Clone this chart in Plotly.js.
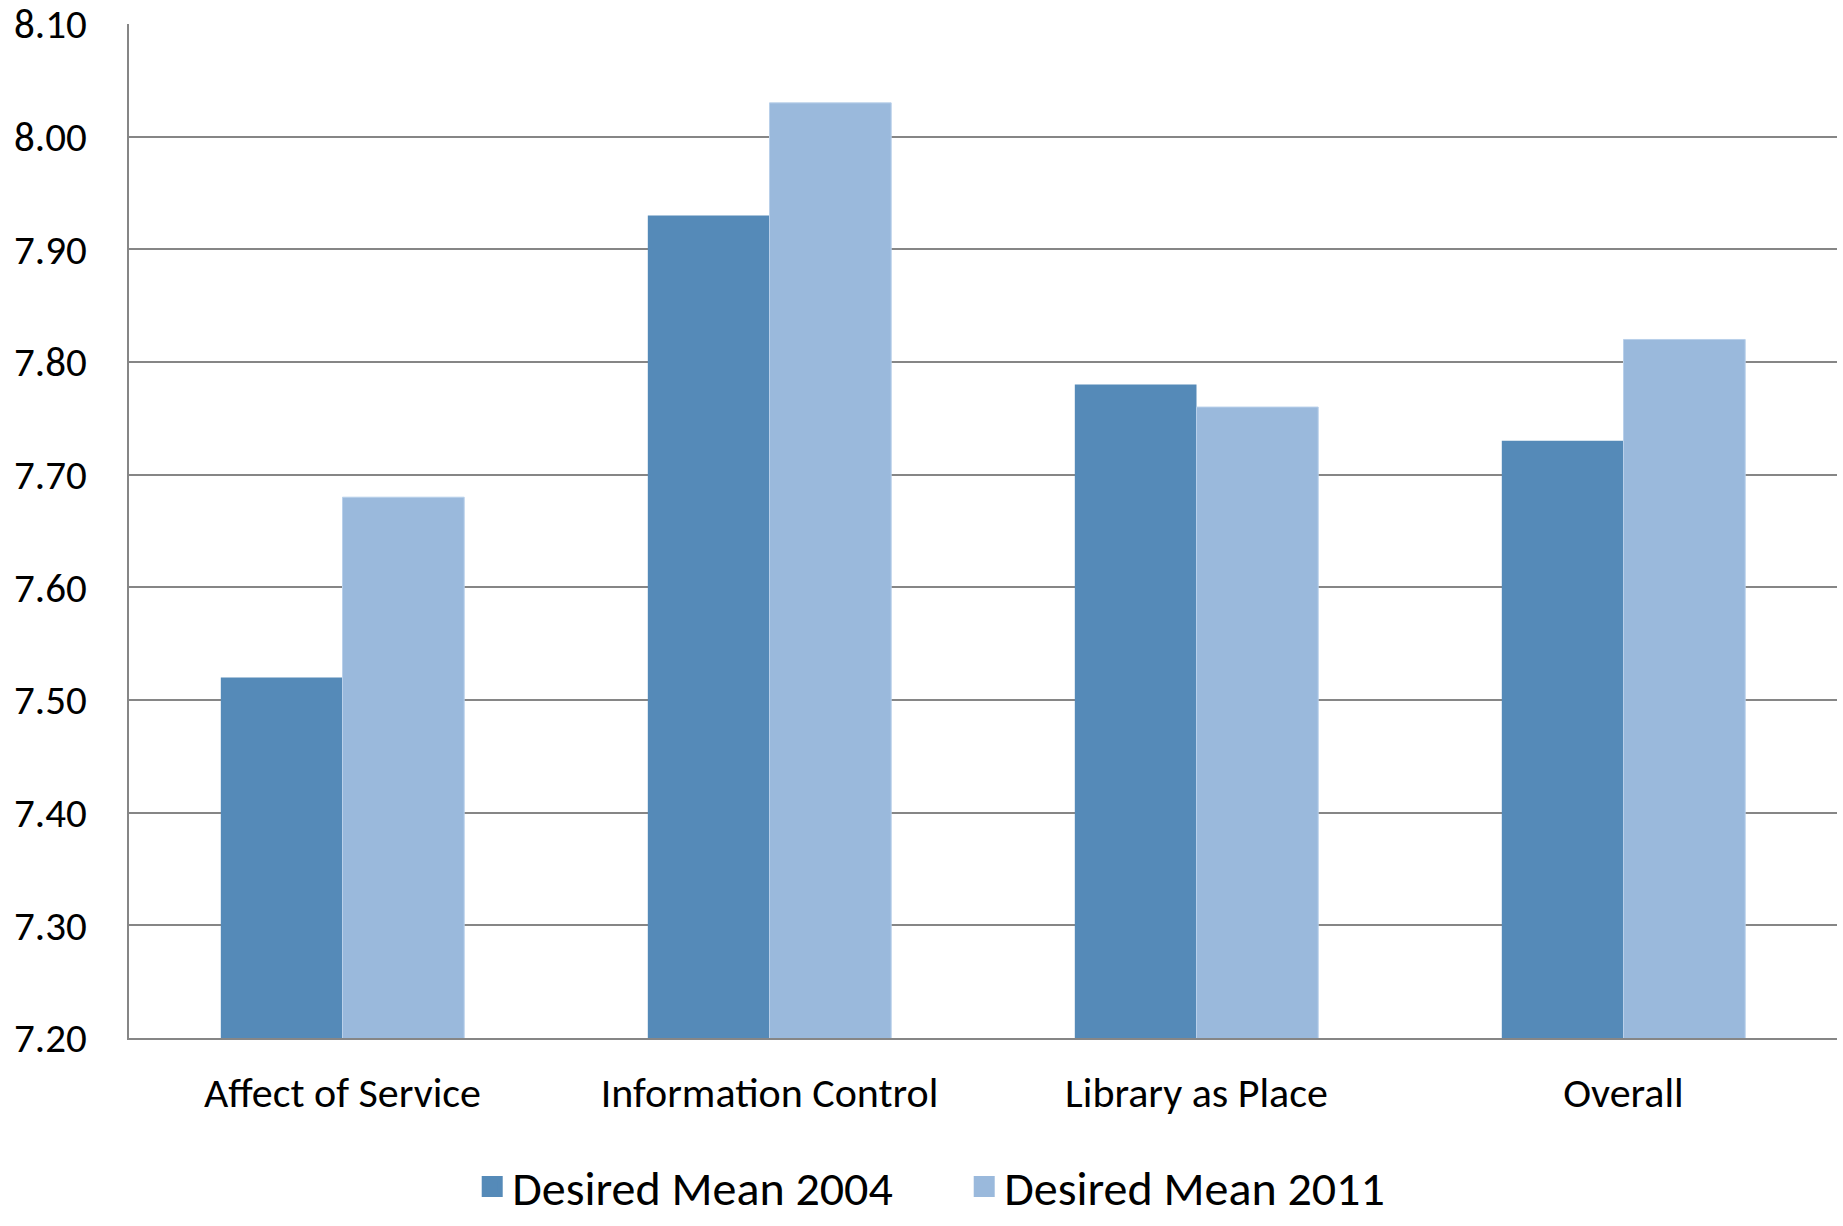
<!DOCTYPE html>
<html>
<head>
<meta charset="utf-8">
<script src="https://cdn.plot.ly/plotly-3.0.1.min.js"></script>
<style>
  html, body { margin: 0; padding: 0; background: #ffffff; }
  #chart { width: 1843px; height: 1226px; }
</style>
</head>
<body>
<div id="chart"></div>
<script>
// Desired mean scores by LibQUAL+ dimension
const categories = ["Affect of Service", "Information Control", "Library as Place", "Overall"];
const desired2004 = [7.52, 7.93, 7.78, 7.73];
const desired2011 = [7.68, 8.03, 7.76, 7.82];
const seriesNames = ["Desired Mean 2004", "Desired Mean 2011"];
const seriesColors = ["#558AB8", "#9AB9DC"];
const yTicks = [7.20, 7.30, 7.40, 7.50, 7.60, 7.70, 7.80, 7.90, 8.00, 8.10];

const FONT = "Carlito, Calibri, Lato, 'Open Sans', sans-serif";
const GRID = "#868686";

const bars = [desired2004, desired2011].map((vals, i) => ({
  type: "bar",
  name: seriesNames[i],
  x: categories,
  y: vals,
  marker: {
    color: seriesColors[i],
    line: i === 1 ? { width: 1, color: "#B9D0EA" } : { width: 0 }
  },
  showlegend: false,
  hovertemplate: "%{x}<br>%{y:.2f}<extra></extra>"
}));

// Legend keys: square markers, larger than the default bar swatch
const keys = seriesNames.map((name, i) => ({
  type: "scatter",
  mode: "markers",
  name: name,
  x: [null],
  y: [null],
  marker: { symbol: "square", size: 16, color: seriesColors[i], line: { width: 5, color: seriesColors[i] } },
  hoverinfo: "skip"
}));

const layout = {
  width: 1843,
  height: 1226,
  paper_bgcolor: "#ffffff",
  plot_bgcolor: "#ffffff",
  margin: { l: 129, r: 6, t: 24, b: 188 },
  barmode: "group",
  bargap: 0.43,
  bargroupgap: 0,
  font: { family: FONT, color: "#000000", size: 36 },
  xaxis: {
    type: "category",
    categoryarray: categories,
    showline: true,
    linecolor: GRID,
    linewidth: 2,
    showgrid: false,
    ticks: "",
    ticklabelstandoff: 17,
    automargin: false,
    tickfont: { family: FONT, size: 42, color: "#000000" },
    zeroline: false
  },
  yaxis: {
    range: [7.2, 8.1],
    tickmode: "array",
    tickvals: yTicks,
    ticktext: yTicks.map(v => v.toFixed(2)),
    showline: true,
    linecolor: GRID,
    linewidth: 2,
    showgrid: true,
    gridcolor: GRID,
    gridwidth: 2,
    zeroline: false,
    ticks: "",
    ticklabelstandoff: 32,
    ticklabeloverflow: "allow",
    automargin: false,
    tickfont: { family: FONT, size: 41, color: "#000000" }
  },
  showlegend: true,
  legend: {
    orientation: "h",
    xref: "paper",
    x: 0.489,
    xanchor: "center",
    yref: "container",
    y: 0.032,
    yanchor: "middle",
    font: { family: FONT, size: 48, color: "#000000" },
    itemwidth: 30,
    entrywidth: 447,
    traceorder: "normal"
  }
};

Plotly.newPlot("chart", bars.concat(keys), layout, { displayModeBar: false, staticPlot: true });
</script>
</body>
</html>
